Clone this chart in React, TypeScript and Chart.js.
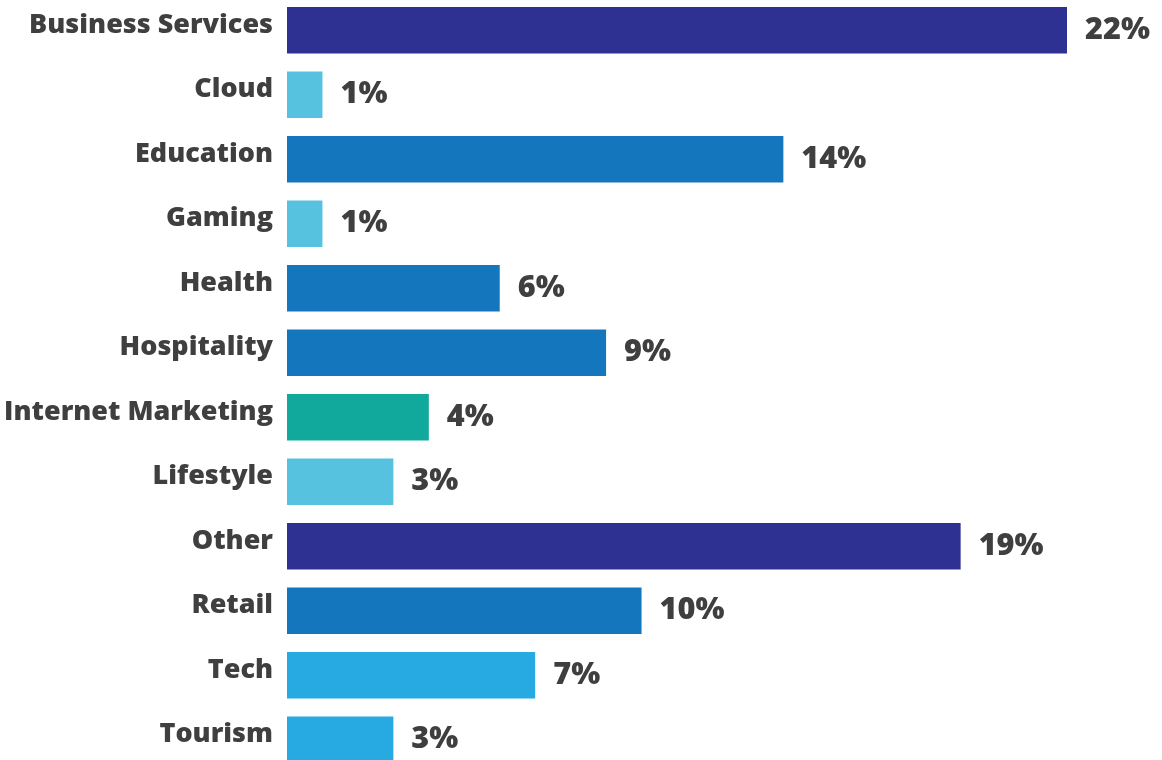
import React, { useEffect, useRef } from "react";
import { Chart, registerables } from "chart.js";

Chart.register(...registerables);

const categories = [
  "Business Services",
  "Cloud",
  "Education",
  "Gaming",
  "Health",
  "Hospitality",
  "Internet Marketing",
  "Lifestyle",
  "Other",
  "Retail",
  "Tech",
  "Tourism",
];
const shares = [22, 1, 14, 1, 6, 9, 4, 3, 19, 10, 7, 3];
const barColors = [
  "#2E3192",
  "#57C2DF",
  "#1476BD",
  "#57C2DF",
  "#1476BD",
  "#1476BD",
  "#12A99D",
  "#57C2DF",
  "#2E3192",
  "#1476BD",
  "#27A9E1",
  "#27A9E1",
];

const FONT_FAMILY = "'Open Sans', 'DejaVu Sans', sans-serif";
const FONT_WEIGHT = "800";
const TEXT_COLOR = "#3F3F3F";

const labelPlugin = {
  id: "barLabels",
  afterDatasetsDraw(chart: any) {
    const ctx = chart.ctx as CanvasRenderingContext2D;
    const meta = chart.getDatasetMeta(0);
    ctx.save();
    // fit font sizes to the reference widths
    ctx.font = `${FONT_WEIGHT} 24px ${FONT_FAMILY}`;
    const catSize = (24 * 244) / ctx.measureText("Business Services").width;
    ctx.font = `${FONT_WEIGHT} 30px ${FONT_FAMILY}`;
    const valSize = (30 * 65) / ctx.measureText("22%").width;
    meta.data.forEach((bar: any, i: number) => {
      ctx.fillStyle = TEXT_COLOR;
      ctx.textBaseline = "middle";
      ctx.font = `${FONT_WEIGHT} ${catSize}px ${FONT_FAMILY}`;
      ctx.textAlign = "right";
      ctx.fillText(categories[i], 273, bar.y - 5);
      ctx.font = `${FONT_WEIGHT} ${valSize}px ${FONT_FAMILY}`;
      ctx.textAlign = "left";
      ctx.fillText(`${shares[i]}%`, bar.x + 18, bar.y);
    });
    ctx.restore();
  },
};

export default function App() {
  const ref = useRef<HTMLCanvasElement>(null);
  useEffect(() => {
    if (!ref.current) return;
    const chart = new Chart(ref.current, {
      type: "bar",
      data: {
        labels: categories,
        datasets: [
          {
            data: shares,
            backgroundColor: barColors,
            borderWidth: 0,
            barPercentage: 0.72,
            categoryPercentage: 1,
          },
        ],
      },
      options: {
        indexAxis: "y",
        responsive: false,
        animation: false,
        layout: { padding: { left: 287, right: 95, top: 0, bottom: 0 } },
        plugins: {
          legend: { display: false },
          tooltip: { enabled: false },
        },
        scales: {
          x: { display: false, min: 0, max: 22 },
          y: { display: false },
        },
      },
      plugins: [labelPlugin],
    });
    return () => chart.destroy();
  }, []);
  return (
    <div
      style={{
        position: "fixed",
        left: 0,
        top: 0,
        width: 1162,
        height: 760,
        overflow: "hidden",
        background: "#ffffff",
      }}
    >
      <canvas
        ref={ref}
        width={1162}
        height={774}
        style={{ position: "absolute", left: 0, top: -2, width: 1162, height: 774 }}
      />
    </div>
  );
}
